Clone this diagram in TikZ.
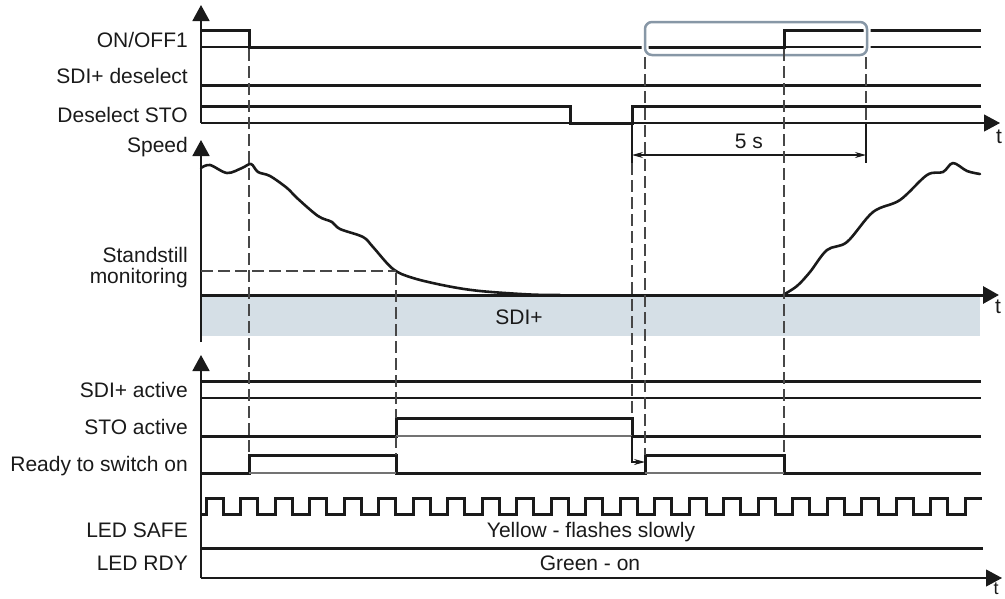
\documentclass[tikz,border=0pt]{standalone}
\usepackage{fontspec}
\setmainfont{Liberation Sans}
\usetikzlibrary{arrows.meta}
\definecolor{boxcol}{HTML}{8797A6}
\definecolor{bandcol}{HTML}{D5DFE6}
\definecolor{dashcol}{HTML}{474747}
\definecolor{inkcol}{HTML}{1A1A1A}
\tikzset{
  sig/.style={line width=3pt, draw=inkcol, line join=miter},
  thinln/.style={line width=1.1pt, draw=inkcol},
  axisln/.style={line width=1.8pt, draw=inkcol},
  guide/.style={draw=dashcol, line width=1.1pt, dash pattern=on 12pt off 5pt},
  lbl/.style={anchor=base east, inner sep=0pt, font=\fontsize{21}{25}\selectfont, text=inkcol},
  txt/.style={anchor=base, inner sep=0pt, font=\fontsize{21}{25}\selectfont, text=inkcol},
  bigtip/.style={-{Triangle[length=16pt,width=17pt]}},
  dimtip/.style={{Stealth[length=11pt,width=6pt]}-{Stealth[length=11pt,width=6pt]}},
  onetip/.style={-{Stealth[length=11pt,width=6pt]}},
}
\begin{document}
\begin{tikzpicture}[x=1pt,y=-1pt]
\useasboundingbox (0,0) rectangle (1005,598);

% ---------- top group ----------
% ON/OFF1
\draw[sig] (201,30) -| (249,47) -| (784,30) -- (981,30);
\draw[thinln] (201,47) -- (249,47);
\draw[thinln] (784,47) -- (981,47);
% SDI+ deselect
\draw[sig] (201,85) -- (981,85);
% Deselect STO
\draw[sig] (201,106) -| (570,123) -| (632,106) -- (981,106);
% time axis and vertical axis
\draw[thinln,bigtip] (201,123) -- (1000,123);
\draw[axisln,bigtip] (201,123) -- (201,5);

% highlight box with white halo
\draw[white, line width=7pt, rounded corners=7pt] (645,22) rectangle (867,55);
\draw[boxcol, line width=2.5pt, rounded corners=7pt] (645,22) rectangle (867,55);

% dimension 5 s
\draw[thinln] (632,123) -- (632,163);
\draw[thinln] (866,123) -- (866,163);
\draw[thinln,dimtip] (632,155) -- (866,155);

% ---------- speed ----------
\fill[bandcol] (201,296) rectangle (980,336);
\draw[axisln,bigtip] (201,342) -- (201,140);
\draw[sig,bigtip] (201,295) -- (999,295);
\draw[line width=2.6pt, draw=inkcol, line join=round, line cap=round]
  plot[smooth, tension=0.55] coordinates {
  (201,168) (210,165) (227,173) (242,168) (251,164) (258,172) (270,176)
  (287,188) (297,198) (318,216) (332,222) (340,229) (363,237) (373,247)
  (393,269) (413,278) (447,286) (480,291) (530,294.5) (560,295)};
\draw[line width=2.6pt, draw=inkcol, line join=round, line cap=round]
  plot[smooth, tension=0.55] coordinates {
  (783,295) (797,286) (810,272) (827,250) (847,242) (873,212) (900,200)
  (927,175) (943,172) (953,163) (967,171) (980,174)};
\draw[guide] (201,271) -- (396,271);

% ---------- bottom group ----------
\draw[axisln,bigtip] (201,578) -- (201,355);
\draw[thinln,bigtip] (201,578) -- (1002,578);
% SDI+ active
\draw[sig] (201,381) -- (981,381);
\draw[thinln] (201,398) -- (981,398);
% STO active
\draw[sig] (201,436) -| (396,418) -| (632,436) -- (981,436);
\draw[thinln, draw=black!55] (396,436) -- (632,436);
% Ready to switch on
\draw[sig] (201,473) -| (249,455) -| (396,473) -| (645,455) -| (784,473) -- (981,473);
\draw[thinln, draw=black!55] (249,473) -- (396,473);
\draw[thinln, draw=black!55] (645,473) -- (784,473);
% LED SAFE flashing
\draw[sig] (201,514)
  \foreach \k in {0,...,21} {
    -- ({206+34.5*\k},514) -- ({206+34.5*\k},498)
    -- ({223+34.5*\k},498) -- ({223+34.5*\k},514) }
  -- (965,514) -- (965,498) -- (982,498);
% LED RDY
\draw[sig] (201,548) -- (983,548);

% small arrow STO off -> ready
\draw[thinln,onetip] (632,436) -- (632,462) -- (645,462);

% ---------- dashed guides ----------
\draw[guide] (249,49) -- (249,455);
\draw[guide] (396,273) -- (396,418);
\draw[guide] (396,436) -- (396,455);
\draw[guide] (632,163) -- (632,418);
\draw[guide] (645,57) -- (645,455);
\draw[guide] (784,49) -- (784,455);
\draw[guide] (866,57) -- (866,123);

% ---------- labels ----------
\node[lbl] (lonoff) at (188,47) {ON/OFF1};
\node[lbl] (lsdid) at (188,83) {SDI+ deselect};
\node[lbl] (lsto) at (188,122) {Deselect STO};
\node[lbl] (lspeed) at (188,152) {Speed};
\node[lbl] (lstand) at (188,262) {Standstill};
\node[lbl] (lmon) at (188,283) {monitoring};
\node[lbl] (lsdia) at (188,397) {SDI+ active};
\node[lbl] (lstoa) at (188,434) {STO active};
\node[lbl] (lready) at (188,471) {Ready to switch on};
\node[lbl] (lsafe) at (188,537) {LED SAFE};
\node[lbl] (lrdy) at (188,570) {LED RDY};

\node[txt] (tfive) at (749,148) {5 s};
\node[txt] (tsdi) at (519,324) {SDI+};
\node[txt] (tyellow) at (591,537) {Yellow - flashes slowly};
\node[txt] (tgreen) at (590,570) {Green - on};
\node[txt] (tt1) at (999,143) {t};
\node[txt] (tt2) at (998,313) {t};
\node[txt, font=\fontsize{18}{20}\selectfont] (tt3) at (996,594) {t};
\end{tikzpicture}
\end{document}
